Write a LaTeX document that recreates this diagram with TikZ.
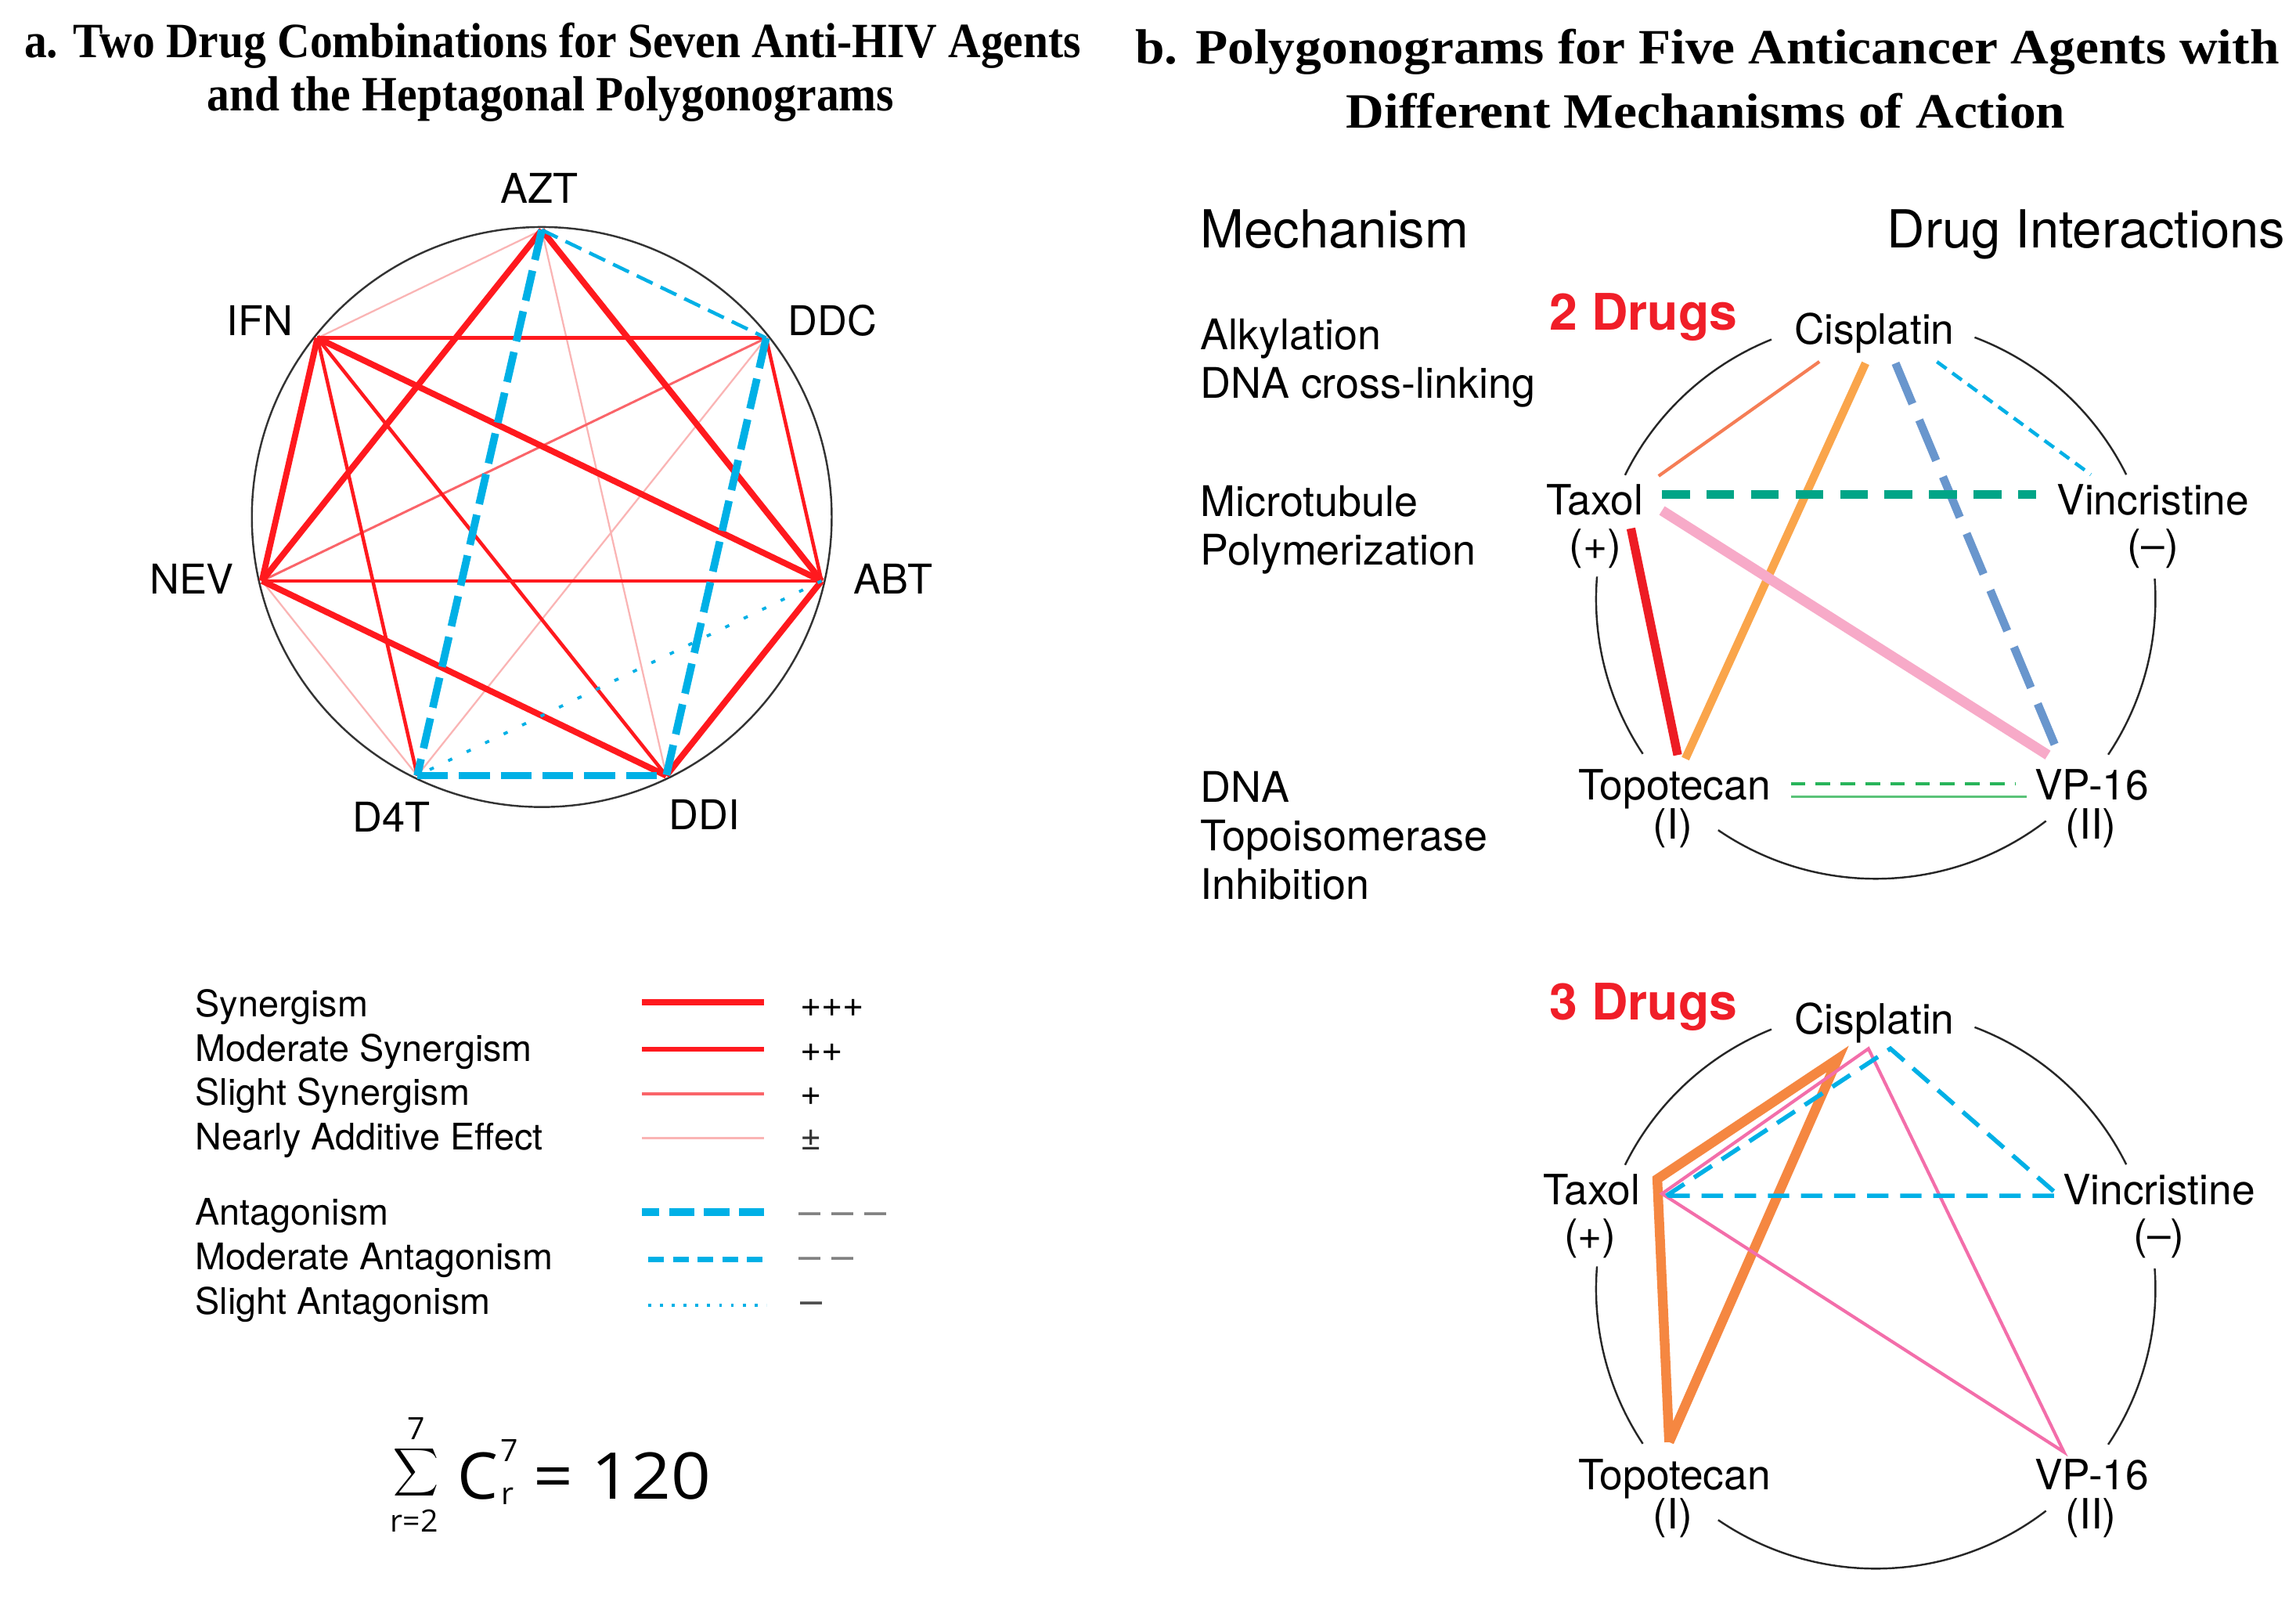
\documentclass[tikz,border=0pt]{standalone}
\usepackage{fontspec}
\usepackage{graphicx}
\setmainfont{TeX Gyre Heros}
\newfontfamily\titlefont{Liberation Serif}
\newfontfamily\formfont{Open Sans}
\usetikzlibrary{calc}
\definecolor{synred}{RGB}{255,25,30}
\definecolor{synlight}{RGB}{250,100,105}
\definecolor{synpale}{RGB}{250,180,180}
\definecolor{antblue}{RGB}{0,176,230}
\definecolor{drugred}{RGB}{240,30,40}
\definecolor{cred}{RGB}{237,28,36}
\definecolor{corange}{RGB}{250,165,75}
\definecolor{ccoral}{RGB}{245,125,85}
\definecolor{csteel}{RGB}{105,150,205}
\definecolor{cteal}{RGB}{0,165,135}
\definecolor{cpink}{RGB}{247,170,200}
\definecolor{cgreen}{RGB}{40,180,90}
\definecolor{cgreenb}{RGB}{90,195,120}
\definecolor{corangeb}{RGB}{245,135,65}
\definecolor{cpinkb}{RGB}{243,110,170}
\definecolor{symgrey}{RGB}{128,128,128}
\tikzset{
  ttl/.style={font={\titlefont\bfseries\fontsize{16.85}{18}\selectfont}, anchor=base, inner sep=0pt},
  hlab/.style={font=\fontsize{14}{16}\selectfont, anchor=base, inner sep=0pt},
  leg/.style={font=\fontsize{12.5}{14}\selectfont, anchor=base west, inner sep=0pt},
  legd/.style={font=\fontsize{13.5}{14}\selectfont, anchor=base west, inner sep=0pt},
  mech/.style={font=\fontsize{14.4}{16}\selectfont, anchor=base west, inner sep=0pt},
  head/.style={font=\fontsize{17.9}{20}\selectfont, inner sep=0pt},
  dlab/.style={font=\fontsize{14.25}{16}\selectfont, anchor=base, inner sep=0pt},
  ndrug/.style={font={\bfseries\fontsize{17.2}{18}\selectfont}, text=drugred, anchor=base west, inner sep=0pt},
  fbig/.style={font={\formfont\fontsize{22}{24}\selectfont}, anchor=base west, inner sep=0pt},
  fsmall/.style={font={\formfont\fontsize{10.5}{12}\selectfont}, inner sep=0pt},
  circ/.style={draw=black!80, line width=0.65pt},
  arcline/.style={draw=black!85, line width=0.65pt},
  syn3/.style={draw=synred, line width=2.1pt},
  syn2/.style={draw=synred, line width=1.2pt},
  syn1/.style={draw=synlight, line width=0.8pt},
  addv/.style={draw=synpale, line width=0.6pt},
  ant3/.style={draw=antblue, line width=2.6pt, dash pattern=on 10.5pt off 3.75pt},
  ant2/.style={draw=antblue, line width=1.2pt, dash pattern=on 6pt off 3pt},
  ant1/.style={draw=antblue, line width=1pt, dash pattern=on 1.5pt off 5.5pt},
  lsyn3/.style={draw=synred, line width=2.25pt},
  lsyn2/.style={draw=synred, line width=1.6pt},
  lsyn1/.style={draw=synlight, line width=1.05pt},
  laddv/.style={draw=synpale, line width=0.9pt},
  lant3/.style={draw=antblue, line width=2.65pt, dash pattern=on 8.65pt off 3.3pt},
  lant2/.style={draw=antblue, line width=1.8pt, dash pattern=on 5.35pt off 3.1pt},
  lant1/.style={draw=antblue, line width=1.1pt, dash pattern=on 1pt off 3.04pt},
  bred/.style={draw=cred, line width=3pt},
  borg/.style={draw=corange, line width=2.8pt},
  bcoral/.style={draw=ccoral, line width=1.1pt},
  bsteel/.style={draw=csteel, line width=2.8pt, dash pattern=on 15pt off 6pt},
  bcyan/.style={draw=antblue, line width=1.2pt, dash pattern=on 4pt off 2.5pt},
  bteal/.style={draw=cteal, line width=3pt, dash pattern=on 9.5pt off 5.7pt},
  bpink/.style={draw=cpink, line width=3.5pt},
  bgdash/.style={draw=cgreen, line width=1.1pt, dash pattern=on 5pt off 3.5pt},
  bgsolid/.style={draw=cgreenb, line width=0.8pt},
  torg/.style={draw=corangeb, line width=3.3pt, line join=miter},
  tpink/.style={draw=cpinkb, line width=1.1pt},
  tcyan/.style={draw=antblue, line width=1.5pt, dash pattern=on 7.3pt off 4pt},
}
\begin{document}
\begin{tikzpicture}[x=0.5pt,y=-0.5pt]
\useasboundingbox (0,0) rectangle (1568,1101);
\fill[white] (0,0) rectangle (1568,1101);

% ---------- titles ----------
\node[ttl] (ta1) at (377.5,39.2) {\scalebox{0.913}[1]{a. Two Drug Combinations for Seven Anti-HIV Agents}};
\node[ttl] (ta2) at (376,75.7) {\scalebox{0.913}[1]{and the Heptagonal Polygonograms}};
\node[ttl] (tb1) at (1166,43.7) {\scalebox{1.07}[1]{b. Polygonograms for Five Anticancer Agents with}};
\node[ttl] (tb2) at (1165,87.3) {\scalebox{1.07}[1]{Different Mechanisms of Action}};

% ---------- panel a: heptagon ----------
\coordinate (hc) at (370,353);
\draw[circ] (hc) circle[radius=198];
\foreach \n/\a in {AZT/-90, DDC/-38.571, ABT/12.857, DDI/64.286, D4T/115.714, NEV/167.143, IFN/-141.429}
  \coordinate (\n) at ($(hc)+(\a:196)$);

\draw[addv] (AZT) -- (IFN);
\draw[addv] (AZT) -- (DDI);
\draw[addv] (DDC) -- (D4T);
\draw[addv] (D4T) -- (NEV);
\draw[syn1] (DDC) -- (NEV);
\draw[syn2] (NEV) -- (ABT);
\draw[syn2] (IFN) -- (DDC);
\draw[syn2] (DDC) -- (ABT);
\draw[syn2] (IFN) -- (DDI);
\draw[syn2] (IFN) -- (D4T);
\draw[syn3] (AZT) -- (NEV);
\draw[syn3] (AZT) -- (ABT);
\draw[syn3] (IFN) -- (ABT);
\draw[syn3] (IFN) -- (NEV);
\draw[syn3] (ABT) -- (DDI);
\draw[syn3] (NEV) -- (DDI);
\draw[ant2] (AZT) -- (DDC);
\draw[ant3] (AZT) -- (D4T);
\draw[ant3] (DDC) -- (DDI);
\draw[ant3] (D4T) -- (DDI);
\draw[ant1] (ABT) -- (D4T);

\node[hlab] (lAZT) at (368.2,138.5) {AZT};
\node[hlab] (lIFN) at (177.3,229) {IFN};
\node[hlab] (lDDC) at (568.6,229) {DDC};
\node[hlab] (lABT) at (610,405.4) {ABT};
\node[hlab] (lNEV) at (131,405.4) {NEV};
\node[hlab] (lD4T) at (267.2,568) {D4T};
\node[hlab] (lDDI) at (481.1,566.5) {DDI};

% ---------- legend ----------
\node[leg] (g1) at (133,694) {Synergism};
\node[leg] (g2) at (133,724.4) {Moderate Synergism};
\node[leg] (g3) at (133,754.7) {Slight Synergism};
\node[leg] (g4) at (133,785) {Nearly Additive Effect};
\node[leg] (g5) at (133,836.6) {Antagonism};
\node[leg] (g6) at (133,866.9) {Moderate Antagonism};
\node[leg] (g7) at (133,897.2) {Slight Antagonism};
\draw[lsyn3] (438.4,684.3) -- (522,684.3);
\draw[lsyn2] (438.4,716.3) -- (522,716.3);
\draw[lsyn1] (438.4,746.7) -- (522,746.7);
\draw[laddv] (438.4,777) -- (522,777);
\draw[lant3] (522,827.7) -- (438.4,827.7);
\draw[lant2] (442.6,859.8) -- (522,859.8);
\draw[lant1] (442.6,891) -- (523.4,891);
\node[leg] (s1) at (546,694) {+++};
\node[leg] (s2) at (546,724.4) {++};
\node[leg] (s3) at (546,754.7) {+};
\node[leg, text=black!80] (s4) at (546,785) {±};
\node[legd, text=symgrey] (s5) at (545,836.6) {– – –};
\node[legd, text=symgrey] (s6) at (545,866.9) {– –};
\node[legd, text=black!70] (s7) at (546,897.2) {–};

% ---------- formula ----------
\node[anchor=south west, inner sep=0pt] (sumsym) at (268,1024) {\resizebox*{15.5pt}{18.3pt}{$\displaystyle\sum$}};
\node[fsmall, anchor=base] (sumtop) at (284.5,982.6) {7};
\node[fsmall, anchor=base] (sumbot) at (283,1046) {r=2};
\node[fbig] (cc) at (312,1023.7) {C};
\node[fsmall, anchor=base west] (csup) at (341.5,997.9) {7};
\node[fsmall, anchor=base west] (csub) at (342,1027.3) {r};
\node[fbig] (eq) at (364,1023.7) {\scalebox{1.08}[1]{= 120}};

% ---------- panel b: left column ----------
\node[head, anchor=base west] (hm) at (819.6,169.3) {Mechanism};
\node[head, anchor=base east] (hd) at (1561,169.3) {Drug Interactions};
\node[mech] (m1) at (819.6,238.8) {Alkylation};
\node[mech] (m2) at (819.6,271.7) {DNA cross-linking};
\node[mech] (m3) at (819.6,352.8) {Microtubule};
\node[mech] (m4) at (819.6,385.8) {Polymerization};
\node[mech] (m5) at (819.6,547.8) {DNA};
\node[mech] (m6) at (819.6,580.8) {Topoisomerase};
\node[mech] (m7) at (819.6,613.8) {Inhibition};

% ---------- circle arcs ----------
\foreach \cy/\sfx in {409/2, 880/3} {
  \coordinate (bc\sfx) at (1281,\cy);
  \foreach \a/\b in {111.9/153.7, 175.4/213.6, 235.7/307.5, 326.2/364.2, 26.4/69.3}
    \draw[arcline] ($(bc\sfx)+(-\a:191)$) arc[start angle=-\a, end angle=-\b, radius=191];
}

% ---------- 2 drugs ----------
\node[ndrug] (n2) at (1058,225.4) {2 Drugs};
\node[dlab] (cis2) at (1280,234.7) {Cisplatin};
\node[dlab] (tax2) at (1089,351.4) {Taxol};
\node[dlab] (taxp2) at (1089.4,381.8) {(+)};
\node[dlab] (vin2) at (1470.3,351.4) {Vincristine};
\node[dlab] (vinm2) at (1470.3,381.8) {(–)};
\node[dlab] (top2) at (1143.5,546) {Topotecan};
\node[dlab] (topi2) at (1142.5,573) {(I)};
\node[dlab] (vp2) at (1428.5,546) {VP-16};
\node[dlab] (vpii2) at (1428,573) {(II)};

\coordinate (c2a) at (1242.5,246.9); \coordinate (t2a) at (1132.7,325);
\coordinate (c2b) at (1274,248);     \coordinate (p2a) at (1151,518);
\coordinate (c2c) at (1294.5,248);   \coordinate (v2a) at (1406.8,517);
\coordinate (c2d) at (1322.8,247);   \coordinate (n2a) at (1427.9,324);
\coordinate (t2b) at (1135,337.8);   \coordinate (n2b) at (1390.6,337.8);
\coordinate (t2c) at (1135,348.6);   \coordinate (v2b) at (1398.5,515.5);
\coordinate (t2d) at (1113.8,360.8); \coordinate (p2b) at (1145.7,515.5);
\coordinate (p2c) at (1222.9,535.3); \coordinate (v2c) at (1376,535.3);
\coordinate (p2d) at (1222.9,544);   \coordinate (v2d) at (1384,544);

\draw[bcoral] (c2a) -- (t2a);
\draw[bred] (t2d) -- (p2b);
\draw[borg] (c2b) -- (p2a);
\draw[bpink] (t2c) -- (v2b);
\draw[bsteel] (c2c) -- (v2a);
\draw[bcyan] (c2d) -- (n2a);
\draw[bteal] (t2b) -- (n2b);
\draw[bgdash] (p2c) -- (v2c);
\draw[bgsolid] (p2d) -- (v2d);

% ---------- 3 drugs ----------
\node[ndrug] (n3) at (1058,696.4) {3 Drugs};
\node[dlab] (cis3) at (1280,705.7) {Cisplatin};
\node[dlab] (tax3) at (1087,822.4) {Taxol};
\node[dlab] (taxp3) at (1086,852.8) {(+)};
\node[dlab] (vin3) at (1474.4,822.4) {Vincristine};
\node[dlab] (vinm3) at (1474.4,852.8) {(–)};
\node[dlab] (top3) at (1143.5,1017) {Topotecan};
\node[dlab] (topi3) at (1142.5,1044) {(I)};
\node[dlab] (vp3) at (1428.5,1017) {VP-16};
\node[dlab] (vpii3) at (1428,1044) {(II)};

\coordinate (t3o) at (1131.8,805);  \coordinate (c3o) at (1255,723);  \coordinate (p3o) at (1139.9,984.6);
\coordinate (t3p) at (1135,815);    \coordinate (c3p) at (1276,716);  \coordinate (v3p) at (1409.5,991.4);
\coordinate (t3c) at (1138,816.4);  \coordinate (c3c) at (1291,716);  \coordinate (n3c) at (1406,816.4);

\draw[torg] (p3o) -- (t3o) -- (c3o) -- (p3o);
\draw[tpink] (t3p) -- (c3p) -- (v3p) -- cycle;
\draw[tcyan] (t3c) -- (c3c) -- (n3c) -- cycle;
\end{tikzpicture}
\end{document}
